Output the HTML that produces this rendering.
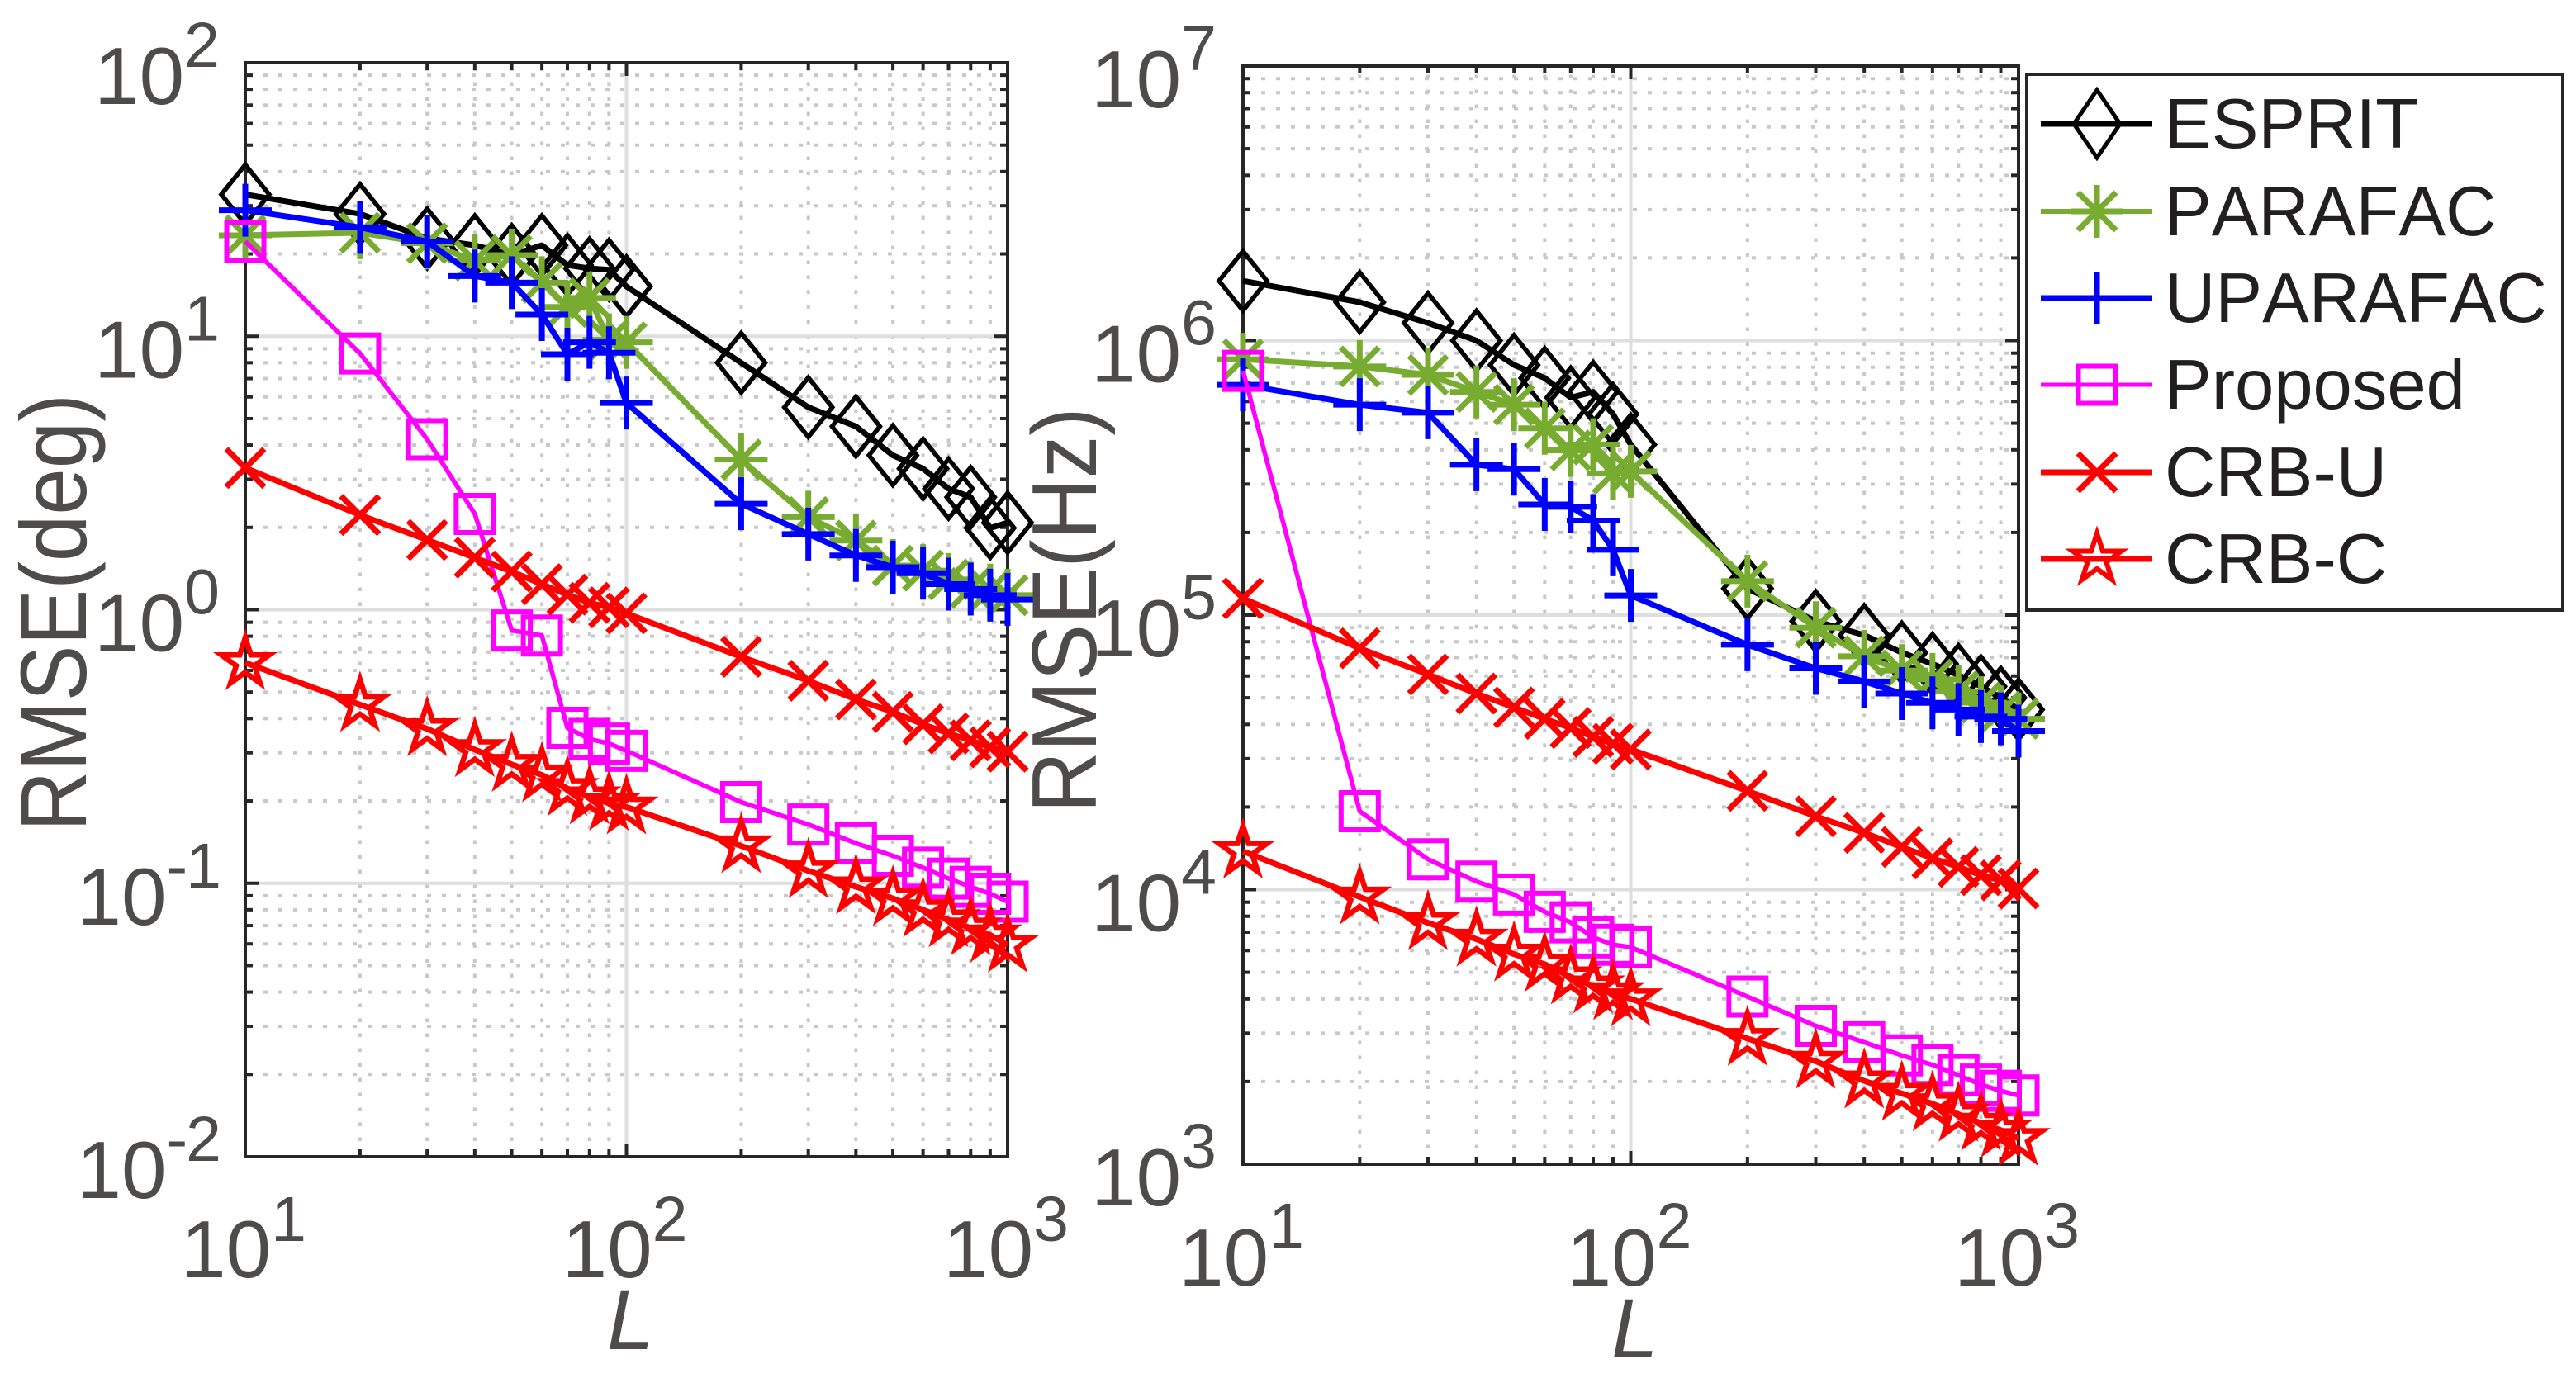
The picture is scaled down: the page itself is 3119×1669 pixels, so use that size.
<!DOCTYPE html>
<html lang="en">
<head>
<meta charset="utf-8">
<title>RMSE versus L</title>
<style>
html,body{margin:0;padding:0;background:#fff;}
svg{display:block;font-family:"Liberation Sans",sans-serif;}
#legend text{font-kerning:none;}
</style>
</head>
<body>
<svg id="chart" xmlns="http://www.w3.org/2000/svg" width="3119" height="1669" viewBox="0 0 3119 1669">
  <rect x="0" y="0" width="3119" height="1669" fill="#ffffff"/>
  <g id="panels"></g>
  <g id="legend">
    <rect x="2454" y="90" width="649" height="649" fill="#ffffff" stroke="#262626" stroke-width="4"/>
    <g>
      <line x1="2471" x2="2606" y1="150" y2="150" stroke="#000000" stroke-width="7"/>
      <polygon points="2539,109 2567,150 2539,191 2511,150" fill="none" stroke="#000000" stroke-width="5"/>
      <text x="2621" y="179" font-size="85" fill="#231f20">ESPRIT</text>
    </g>
    <g>
      <line x1="2471" x2="2606" y1="256" y2="256" stroke="#77ac30" stroke-width="6"/>
      <path d="M2539 224V288M2507 256H2571M2516 233L2562 279M2516 279L2562 233" fill="none" stroke="#77ac30" stroke-width="7"/>
      <text x="2621" y="285" font-size="85" fill="#231f20">PARAFAC</text>
    </g>
    <g>
      <line x1="2471" x2="2606" y1="361" y2="361" stroke="#0000ff" stroke-width="7"/>
      <path d="M2539 329V393" fill="none" stroke="#0000ff" stroke-width="7"/>
      <text x="2621" y="390" font-size="85" fill="#231f20">UPARAFAC</text>
    </g>
    <g>
      <line x1="2471" x2="2606" y1="466" y2="466" stroke="#ff00ff" stroke-width="5"/>
      <rect x="2516.500" y="443.500" width="45" height="45" fill="none" stroke="#ff00ff" stroke-width="6"/>
      <text x="2621" y="495" font-size="85" fill="#231f20">Proposed</text>
    </g>
    <g>
      <line x1="2471" x2="2606" y1="572" y2="572" stroke="#ff0000" stroke-width="7"/>
      <path d="M2516 549L2562 595M2516 595L2562 549" fill="none" stroke="#ff0000" stroke-width="7"/>
      <text x="2621" y="601" font-size="85" fill="#231f20">CRB-U</text>
    </g>
    <g>
      <line x1="2471" x2="2606" y1="677" y2="677" stroke="#ff0000" stroke-width="7"/>
      <polygon points="2539,646 2546,667.500 2568.500,667.500 2550.300,680.700 2557.300,702.200 2539,688.900 2520.700,702.200 2527.700,680.700 2509.500,667.500 2532,667.500" fill="none" stroke="#ff0000" stroke-width="6"/>
      <text x="2621" y="706" font-size="85" fill="#231f20">CRB-C</text>
    </g>
  </g>
</svg>
<script>
const categories = [10,20,30,40,50,60,70,80,90,100,200,300,400,500,600,700,800,900,1000];

const seriesNames = ['esprit','parafac','uparafac','proposed','crb-u','crb-c'];

const leftEsprit = [33,28,22.8,21.5,19.8,21.5,18.2,17.7,17.5,15.2,8.0,5.5,4.68,3.67,3.28,2.77,2.58,1.99,2.08];
const leftParafac = [23.4,23.9,21.9,18.9,19.8,15.7,12.8,13.8,9.7,9.5,3.54,2.18,1.79,1.45,1.39,1.29,1.2,1.18,1.13];
const leftUparafac = [28.9,25,22.2,16.6,15.7,12,8.6,9.5,8.7,5.7,2.44,1.89,1.58,1.43,1.36,1.24,1.19,1.13,1.09];
const leftProposed = [22.2,8.65,4.2,2.24,0.84,0.805,0.37,0.337,0.324,0.305,0.198,0.164,0.14,0.126,0.114,0.104,0.097,0.0915,0.0857];
const leftCrbU = [3.3,2.22,1.8,1.55,1.38,1.24,1.135,1.06,1.02,0.97,0.673,0.55,0.47,0.423,0.381,0.353,0.333,0.314,0.303];
const leftCrbC = [0.64,0.45,0.367,0.308,0.272,0.249,0.222,0.207,0.196,0.19,0.137,0.111,0.097,0.088,0.08,0.0735,0.0686,0.0647,0.0594];

const rightEsprit = [1650000,1380000,1160000,1000000,815000,730000,620000,650000,540000,418000,125000,95000,84500,73000,66400,60500,55000,50000,45300];
const rightParafac = [855000,805000,750000,650000,584000,479000,398000,418000,328000,334000,133000,90000,70800,62800,58300,52700,48000,44400,41900];
const rightUparafac = [690000,584000,546000,353000,340000,253000,248000,221000,173000,118000,78000,64000,57300,51800,47900,45300,42700,41900,37800];
const rightProposed = [776000,19300,12900,10700,9600,8300,7600,6700,6300,6170,4080,3190,2780,2490,2300,2110,1950,1850,1780];
const rightCrbU = [115000,75700,60800,51800,46100,41900,38800,36000,34000,32400,22900,18500,16100,14300,13000,12100,11300,10800,10100];
const rightCrbC = [13800,9400,7570,6600,5820,5350,4810,4460,4210,4000,2870,2370,2010,1810,1660,1520,1410,1330,1240];

const leftSeriesValues = [leftEsprit,leftParafac,leftUparafac,leftProposed,leftCrbU,leftCrbC];
const rightSeriesValues = [rightEsprit,rightParafac,rightUparafac,rightProposed,rightCrbU,rightCrbC];

const xTickExponents = [1,2,3];
const leftYTickExponents = [2,1,0,-1,-2];
const rightYTickExponents = [7,6,5,4,3];

const SVG_NS = 'http://www.w3.org/2000/svg';
const seriesStyle = {
  'esprit':   {color:'#000000', line:7, marker:'diamond'},
  'parafac':  {color:'#77ac30', line:7, marker:'asterisk'},
  'uparafac': {color:'#0000ff', line:7, marker:'plus'},
  'proposed': {color:'#ff00ff', line:5.5, marker:'square'},
  'crb-u':    {color:'#ff0000', line:7, marker:'cross'},
  'crb-c':    {color:'#ff0000', line:7, marker:'star'}
};

function shape(parent, tag, attrs) {
  const el = document.createElementNS(SVG_NS, tag);
  for (const k in attrs) el.setAttribute(k, attrs[k]);
  parent.appendChild(el);
  return el;
}

function makeScale(domainMin, domainMax, pixelMin, pixelMax) {
  return function (value) {
    return pixelMin + (Math.log10(value) - domainMin) / (domainMax - domainMin) * (pixelMax - pixelMin);
  };
}

function markerPath(kind, cx, cy) {
  if (kind === 'diamond') return 'M' + cx + ' ' + (cy - 36) + 'L' + (cx + 29) + ' ' + cy + 'L' + cx + ' ' + (cy + 36) + 'L' + (cx - 29) + ' ' + cy + 'Z';
  if (kind === 'asterisk') return 'M' + cx + ' ' + (cy - 32) + 'V' + (cy + 32) + 'M' + (cx - 32) + ' ' + cy + 'H' + (cx + 32) + 'M' + (cx - 23) + ' ' + (cy - 23) + 'L' + (cx + 23) + ' ' + (cy + 23) + 'M' + (cx - 23) + ' ' + (cy + 23) + 'L' + (cx + 23) + ' ' + (cy - 23);
  if (kind === 'plus') return 'M' + cx + ' ' + (cy - 32) + 'V' + (cy + 32) + 'M' + (cx - 32) + ' ' + cy + 'H' + (cx + 32);
  if (kind === 'square') return 'M' + (cx - 22.5) + ' ' + (cy - 22.5) + 'H' + (cx + 22.5) + 'V' + (cy + 22.5) + 'H' + (cx - 22.5) + 'Z';
  if (kind === 'cross') return 'M' + (cx - 23) + ' ' + (cy - 23) + 'L' + (cx + 23) + ' ' + (cy + 23) + 'M' + (cx - 23) + ' ' + (cy + 23) + 'L' + (cx + 23) + ' ' + (cy - 23);
  let d = '';
  for (let i = 0; i < 10; i++) {
    const r = i % 2 === 0 ? 30.5 : 11.6;
    const a = -Math.PI / 2 + i * Math.PI / 5;
    d += (i === 0 ? 'M' : 'L') + (cx + r * Math.cos(a)).toFixed(1) + ' ' + (cy + r * Math.sin(a)).toFixed(1);
  }
  return d + 'Z';
}

function powerLabel(parent, exponent, x, y, anchor, supShift) {
  const t = shape(parent, 'text', {x: x, y: y, 'text-anchor': anchor, fill: '#4f4b4b', 'font-size': 98});
  t.appendChild(document.createTextNode('10'));
  const s = shape(t, 'tspan', {dy: supShift, 'font-size': 77});
  if (exponent < 0) s.setAttribute('letter-spacing', '-2');
  s.textContent = String(exponent);
  return t;
}

function drawPanel(cfg) {
  const root = document.getElementById('panels');
  const g = shape(root, 'g', {});
  
  

  const sx = makeScale(cfg.xMinExp, cfg.xMaxExp, cfg.left, cfg.right);
  const sy = makeScale(cfg.yMinExp, cfg.yMaxExp, cfg.bottom, cfg.top);

  const minorX = [];
  for (let e = cfg.xMinExp; e < cfg.xMaxExp; e++) for (let m = 2; m <= 9; m++) minorX.push(m * Math.pow(10, e));
  const minorY = [];
  for (let e = cfg.yMinExp; e < cfg.yMaxExp; e++) for (let m = 2; m <= 9; m++) minorY.push(m * Math.pow(10, e));

  const gridG = shape(g, 'g', {});
  
  

  minorX.forEach(function (v) {
    const x = sx(v);
    const l = shape(gridG, 'line', {x1: x, x2: x, y1: cfg.bottom - 1, y2: cfg.top, stroke: '#c8c8c8', 'stroke-width': 4, 'stroke-dasharray': '4.500 13.500'});
    
    
  });
  minorY.forEach(function (v) {
    const y = sy(v);
    const l = shape(gridG, 'line', {x1: cfg.left + 4, x2: cfg.right, y1: y, y2: y, stroke: '#c8c8c8', 'stroke-width': 4, 'stroke-dasharray': '5 13'});
    
    
  });
  cfg.xTicks.forEach(function (e) {
    const x = sx(Math.pow(10, e));
    const l = shape(gridG, 'line', {x1: x, x2: x, y1: cfg.bottom, y2: cfg.top, stroke: '#dedede', 'stroke-width': 4});
    
    
  });
  cfg.yTicks.forEach(function (e) {
    const y = sy(Math.pow(10, e));
    const l = shape(gridG, 'line', {x1: cfg.left, x2: cfg.right, y1: y, y2: y, stroke: '#dedede', 'stroke-width': 4});
    
    
  });

  const tickG = shape(g, 'g', {stroke: '#262626', 'stroke-width': 4});
  
  

  function xTick(v, len) {
    const x = sx(v);
    const a = shape(tickG, 'line', {x1: x, x2: x, y1: cfg.bottom, y2: cfg.bottom - len});
    
    
    const b = shape(tickG, 'line', {x1: x, x2: x, y1: cfg.top, y2: cfg.top + len});
    
    
  }
  function yTick(v, len) {
    const y = sy(v);
    const a = shape(tickG, 'line', {x1: cfg.left, x2: cfg.left + len, y1: y, y2: y});
    
    
    const b = shape(tickG, 'line', {x1: cfg.right, x2: cfg.right - len, y1: y, y2: y});
    
    
  }
  minorX.forEach(function (v) { xTick(v, 9); });
  minorY.forEach(function (v) { yTick(v, 9); });
  cfg.xTicks.forEach(function (e) { xTick(Math.pow(10, e), 16); });
  cfg.yTicks.forEach(function (e) { yTick(Math.pow(10, e), 16); });

  const frame = shape(g, 'rect', {x: cfg.left, y: cfg.top, width: cfg.right - cfg.left, height: cfg.bottom - cfg.top, fill: 'none', stroke: '#262626', 'stroke-width': 4});
  
  

  cfg.xTicks.forEach(function (e) {
    const t = powerLabel(g, e, sx(Math.pow(10, e)) - 2, cfg.xLabelY, 'middle', cfg.xSupShift);
    
    
  });
  cfg.yTicks.forEach(function (e) {
    const t = powerLabel(g, e, cfg.yLabelX, sy(Math.pow(10, e)) + 50, 'end', -45);
    
    
  });

  const yTitle = shape(g, 'text', {transform: 'translate(' + cfg.yTitleX + ',' + cfg.yTitleY + ') rotate(-90)', 'text-anchor': 'middle', 'font-size': cfg.yTitleSize, fill: '#4f4b4b', textLength: cfg.yTitleLength, lengthAdjust: 'spacingAndGlyphs'});
  yTitle.textContent = cfg.yTitle;
  
  

  const xTitle = shape(g, 'text', {x: cfg.xTitleX, y: cfg.xTitleY, 'font-size': 102, 'font-style': 'italic', fill: '#4f4b4b'});
  xTitle.textContent = 'L';
  
  

  seriesNames.forEach(function (name, si) {
    const st = seriesStyle[name];
    const values = cfg.values[si];
    const sg = shape(g, 'g', {});
    
    

    const pts = values.map(function (v, i) {
      return sx(categories[i]).toFixed(1) + ',' + sy(v).toFixed(1);
    }).join(' ');
    const line = shape(sg, 'polyline', {points: pts, fill: 'none', stroke: st.color, 'stroke-width': st.line, 'stroke-linejoin': 'round'});
    
    

    const markerWidth = st.marker === 'diamond' ? 5.5 : (st.marker === 'star' ? 6.500 : (st.marker === 'square' ? 6 : 7));
    values.forEach(function (v, i) {
      const m = shape(sg, 'path', {d: markerPath(st.marker, sx(categories[i]), sy(v)), fill: 'none', stroke: st.color, 'stroke-width': markerWidth, 'stroke-miterlimit': 10});
      
      
    });
  });
}

drawPanel({
  name: 'angle-rmse-plot', values: leftSeriesValues, xTicks: xTickExponents, yTicks: leftYTickExponents,
  left: 297, right: 1220, top: 76, bottom: 1401,
  xMinExp: 1, xMaxExp: 3, yMinExp: -2, yMaxExp: 2,
  xLabelY: 1547, xSupShift: -44, yLabelX: 266,
  yTitle: 'RMSE(deg)', yTitleX: 104, yTitleY: 742, yTitleSize: 113, yTitleLength: 530, xTitleX: 735, xTitleY: 1634
});
drawPanel({
  name: 'frequency-rmse-plot', values: rightSeriesValues, xTicks: xTickExponents, yTicks: rightYTickExponents,
  left: 1505, right: 2444, top: 80, bottom: 1410,
  xMinExp: 1, xMaxExp: 3, yMinExp: 3, yMaxExp: 7,
  xLabelY: 1557, xSupShift: -46, yLabelX: 1473,
  yTitle: 'RMSE(Hz)', yTitleX: 1327, yTitleY: 739, yTitleSize: 111, yTitleLength: 491, xTitleX: 1951, xTitleY: 1644
});
</script>
</body>
</html>
